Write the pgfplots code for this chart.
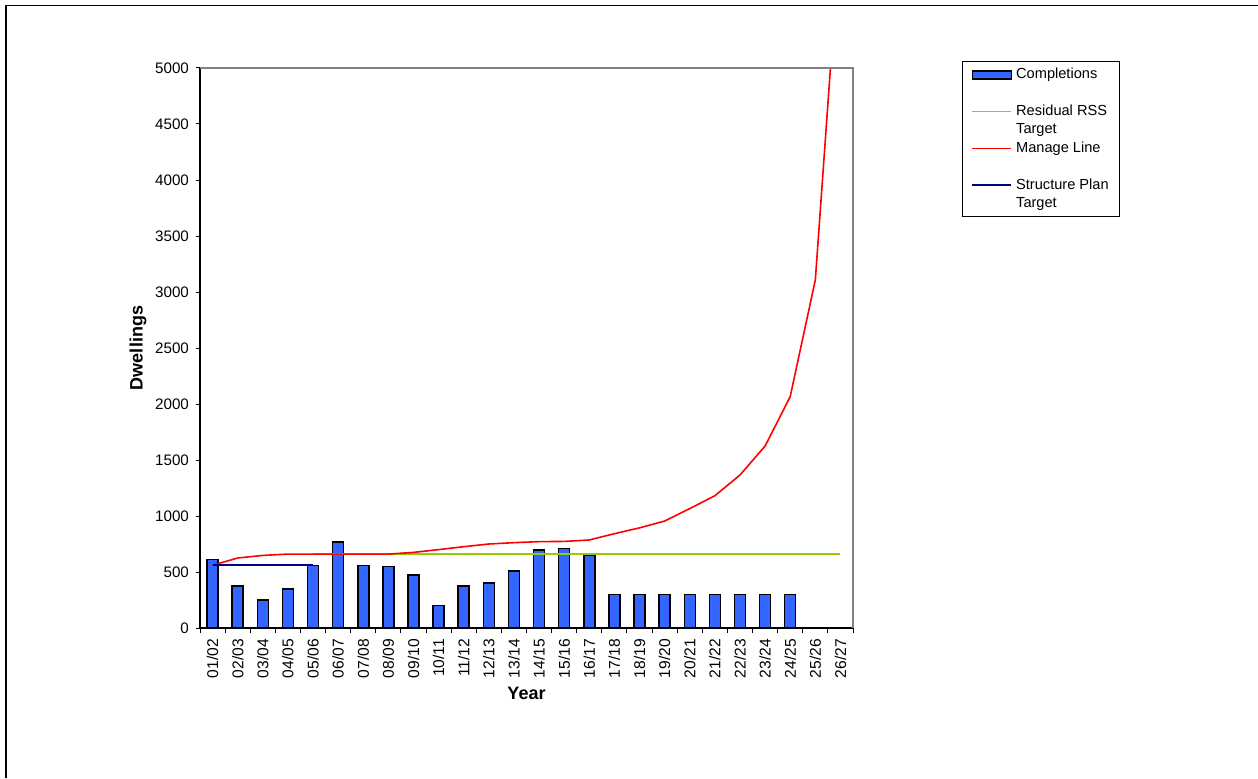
\documentclass[border=0pt]{standalone}
\usepackage{pgfplots}
\pgfplotsset{compat=1.18}
\usepackage{fontspec}
\setmainfont{Liberation Sans}
\definecolor{barblue}{RGB}{51,102,255}
\definecolor{rssgreen}{RGB}{153,204,0}
\definecolor{navyline}{RGB}{0,0,128}
\definecolor{framegray}{RGB}{128,128,128}
\pgfplotsset{
  barlegend/.style={legend image code/.code={\draw[##1] (0pt,-2pt) rectangle (19.5pt,2pt);}},
  linelegend/.style={legend image code/.code={\draw[##1] (0pt,0pt) -- (19.5pt,0pt);}},
}
\begin{document}
\begin{tikzpicture}[x=1pt,y=1pt]
\useasboundingbox (0,0) rectangle (629,389);
\draw[line width=0.9pt] (3,0) -- (3,386.2) -- (629,386.2);
\begin{axis}[
  at={(100pt,75pt)}, anchor=south west,
  scale only axis, width=326.5pt, height=280pt,
  xmin=-0.5, xmax=25.5, ymin=0, ymax=5000,
  axis x line*=bottom, axis y line*=left,
  axis line style={black, line width=0.6pt},
  clip mode=individual,
  tick align=outside,
  major tick length=2pt,
  minor tick length=2.5pt,
  xtick={0,...,25},
  xticklabels={01/02,02/03,03/04,04/05,05/06,06/07,07/08,08/09,09/10,10/11,11/12,12/13,13/14,14/15,15/16,16/17,17/18,18/19,19/20,20/21,21/22,22/23,23/24,24/25,25/26,26/27},
  major x tick style={draw=none},
  minor xtick={-0.5,0.5,...,25.5},
  minor x tick style={black, line width=0.5pt},
  ytick={0,500,...,5000},
  major y tick style={black, line width=0.5pt},
  /pgf/number format/assume math mode=true,
  scaled y ticks=false,
  yticklabel style={font=\fontsize{7.6}{9}\selectfont, /pgf/number format/1000 sep={}},
  xticklabel style={font=\fontsize{7.8}{9}\selectfont, rotate=90, anchor=east},
  xlabel={Year}, ylabel={Dwellings},
  xlabel style={at={(axis description cs:0.5,-0.116)}, anchor=center, font=\fontsize{9}{11}\selectfont\bfseries},
  ylabel style={at={(axis description cs:-0.0949,0.5)}, anchor=center, font=\fontsize{9}{11}\selectfont\bfseries},
  legend cell align=left,
  legend style={at={(axis description cs:1.1669,1.0125)}, anchor=north west,
    draw=black, line width=0.6pt, fill=white,
    font=\fontsize{7.3}{8.5}\selectfont,
    row sep=0pt, column sep=1pt, inner xsep=4.5pt, inner ysep=2pt,
    nodes={inner sep=1pt, text height=5.5pt, text depth=1.7pt}},
]
\addplot[ybar, bar width=5.5pt, fill=barblue, draw=black, line width=0.75pt, barlegend]
  coordinates {(0,610) (1,375) (2,250) (3,350) (4,560) (5,770) (6,560) (7,550) (8,475) (9,200) (10,375) (11,400) (12,510) (13,695) (14,710) (15,650) (16,300) (17,300) (18,300) (19,300) (20,300) (21,300) (22,300) (23,300)};
\addlegendentry{Completions}
\addlegendimage{empty legend}\addlegendentry{}
\addplot[rssgreen, line width=0.8pt, mark=none, linelegend] coordinates {(4,660) (25,660)};
\addlegendentry{Residual RSS}
\addlegendimage{empty legend}\addlegendentry{Target}
\addplot[red, line width=0.8pt, mark=none, linelegend] coordinates {(0,560) (1,625) (2,648) (3,660) (4,660) (5,660) (6,660) (7,660) (8,675) (9,700) (10,726) (11,750) (12,762) (13,771) (14,773) (15,786) (16,842) (17,894) (18,955) (19,1066) (20,1181) (21,1366) (22,1625) (23,2066) (24,3108) (25,6250)};
\addlegendentry{Manage Line}
\addlegendimage{empty legend}\addlegendentry{}
\addplot[navyline, line width=0.8pt, mark=none, linelegend] coordinates {(0,560) (4,560)};
\addlegendentry{Structure Plan}
\addlegendimage{empty legend}\addlegendentry{Target}
\draw[framegray, line width=0.6pt] (rel axis cs:0,1) -- (rel axis cs:1,1) -- (rel axis cs:1,0);
\end{axis}
\end{tikzpicture}
\end{document}
